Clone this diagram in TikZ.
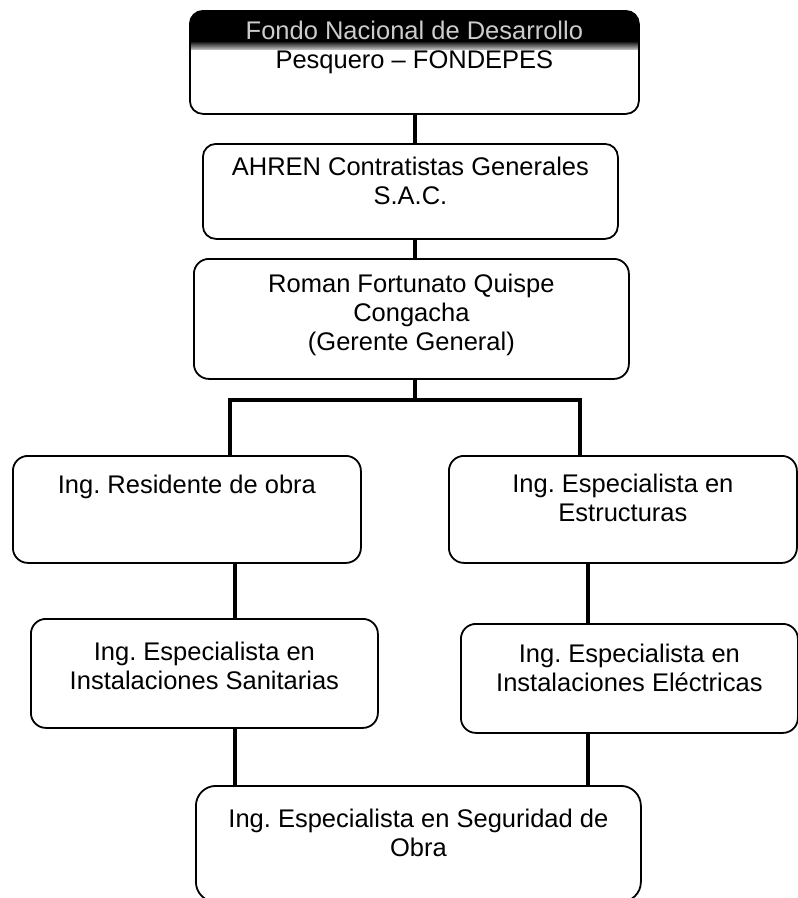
\documentclass[tikz,border=0pt]{standalone}
\usepackage{fontspec}
\setmainfont{Liberation Sans}
\usepackage{xcolor}
\frenchspacing

\newcommand{\boxtext}[4]{%
  \begin{minipage}[t][#2][t]{#1}\centering\vspace*{#3}#4\end{minipage}}

\begin{document}
\begin{tikzpicture}[
    x=1pt, y=-1pt,
    box/.style={draw, line width=1.8pt, rounded corners=13pt, inner sep=0pt,
                anchor=north west, font=\fontsize{25.5}{29}\selectfont},
    band/.style={path picture={
        \fill[black, sharp corners] (path picture bounding box.north west) rectangle
            ([yshift=-30pt]path picture bounding box.north east);
        \shade[sharp corners, top color=black, bottom color=gray!40]
            ([yshift=-30pt]path picture bounding box.north west) rectangle
            ([yshift=-39pt]path picture bounding box.north east);}},
    conn/.style={line width=3.5pt}
]
\useasboundingbox (0,0) rectangle (798,898);

\node[box, band] (fondo) at (189,10)
    {\boxtext{449pt}{103pt}{10.5pt}{\textcolor{gray!40}{Fondo Nacional de Desarrollo}\\Pesquero – FONDEPES}};
\node[box] (ahren) at (202,143)
    {\boxtext{415pt}{95pt}{13.5pt}{AHREN Contratistas Generales\\S.A.C.}};
\node[box, rounded corners=15pt] (gerente) at (193,258)
    {\boxtext{435pt}{120pt}{15.5pt}{Roman Fortunato Quispe\\Congacha\\(Gerente General)}};
\node[box, rounded corners=15pt] (resid) at (12,455)
    {\boxtext{348pt}{107pt}{19.5pt}{Ing. Residente de obra}};
\node[box, rounded corners=15pt] (estruct) at (448,455)
    {\boxtext{348pt}{107pt}{18.5pt}{Ing. Especialista en\\Estructuras}};
\node[box, rounded corners=15pt] (sanit) at (30,618)
    {\boxtext{347pt}{109pt}{23.5pt}{Ing. Especialista en\\Instalaciones Sanitarias}};
\node[box, rounded corners=15pt] (elect) at (460,623)
    {\boxtext{337pt}{109pt}{20.5pt}{Ing. Especialista en\\Instalaciones Eléctricas}};
\node[box, rounded corners=20pt] (segur) at (195,785)
    {\boxtext{445pt}{116pt}{23.5pt}{Ing. Especialista en Seguridad de\\Obra}};

\coordinate (trunk) at (415,400);
\coordinate (barL) at (230,400);
\coordinate (barR) at (580,400);
\coordinate (colL) at (235,0);
\coordinate (colR) at (588,0);

\draw[conn] (fondo.south -| trunk) -- (ahren.north -| trunk);
\draw[conn] (ahren.south -| trunk) -- (gerente.north -| trunk);
\draw[conn] (gerente.south -| trunk) -- (trunk);
\draw[conn] (resid.north -| barL) -- (barL) -- (barR) -- (estruct.north -| barR);
\draw[conn] (resid.south -| colL) -- (sanit.north -| colL);
\draw[conn] (sanit.south -| colL) -- (segur.north -| colL);
\draw[conn] (estruct.south -| colR) -- (elect.north -| colR);
\draw[conn] (elect.south -| colR) -- (segur.north -| colR);
\end{tikzpicture}
\end{document}
